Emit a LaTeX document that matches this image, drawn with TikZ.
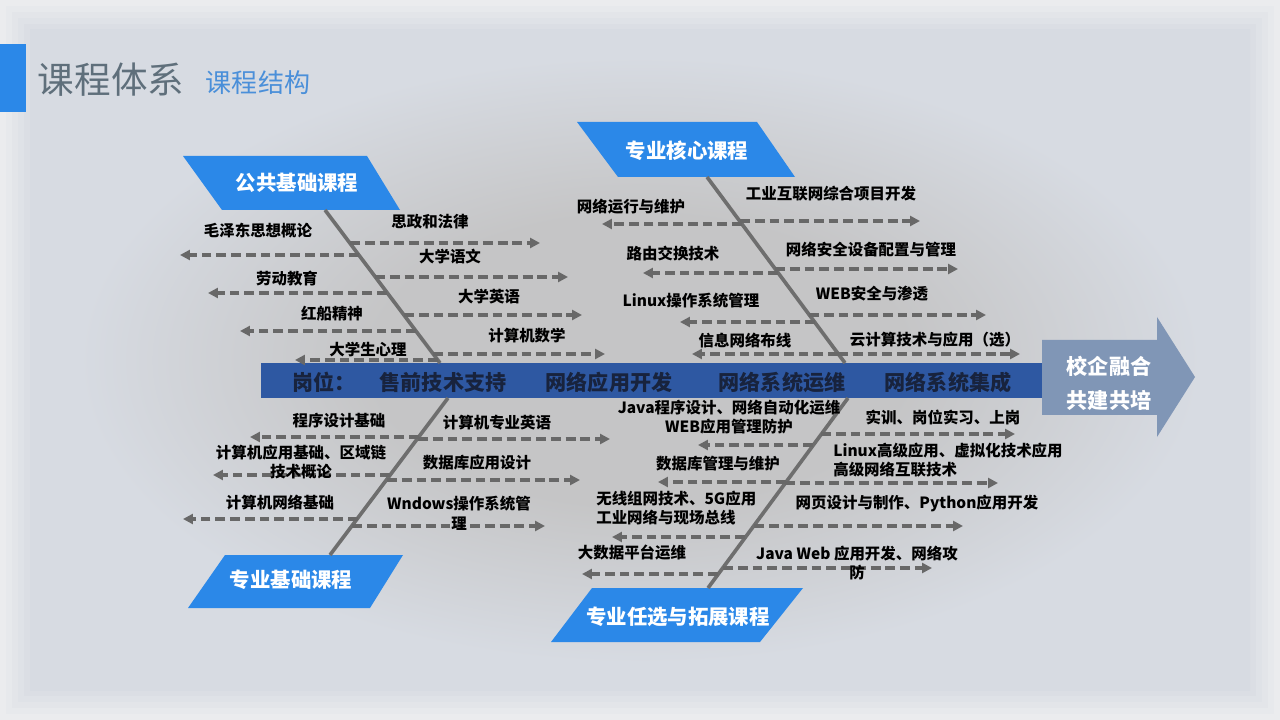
\documentclass[tikz,border=0pt]{standalone}
\usepackage{fontspec}
\setmainfont{Noto Sans CJK SC}
\usetikzlibrary{arrows.meta,calc,positioning}
\definecolor{tagblue}{HTML}{2B88E8}
\definecolor{spineblue}{HTML}{2E58A2}
\definecolor{spinetext}{HTML}{18233D}
\definecolor{bonegray}{HTML}{6E6E6E}
\definecolor{dashgray}{HTML}{686868}
\definecolor{steelarrow}{HTML}{8096B6}
\definecolor{titlegray}{HTML}{5F6F7B}
\definecolor{subblue}{HTML}{4A8FD9}
\definecolor{bgedge}{HTML}{EBECEE}
\definecolor{bgmid}{HTML}{D7DBE2}
\definecolor{bgcore}{HTML}{C5C5C6}

\pgfdeclareradialshading{slidecore}{\pgfpoint{0bp}{0bp}}{%
  color(0bp)=(bgcore); color(11bp)=(bgcore); color(23bp)=(bgmid); color(50bp)=(bgmid)}

\tikzset{
  bone/.style={bonegray, line width=2.6pt},
  branch/.style={dashgray, line width=2.2pt, dash pattern=on 7pt off 3.5pt,
                 -{Triangle[length=7pt,width=7pt]}},
  lbl/.style={font=\bfseries\fontsize{11}{14}\selectfont, text=black, inner sep=0pt, align=center},
  lblleft/.style={lbl, align=left},
  tagtext/.style={font=\bfseries\fontsize{14.5}{17}\selectfont, text=white, inner sep=0pt},
  jobtext/.style={font=\bfseries\fontsize{15}{17}\selectfont, text=spinetext, inner sep=0pt},
}

% #1 id, #2 arrow y, #3 start x (on bone), #4 end x, #5 label x, #6 label y, #7 text
\newcommand{\branchitem}[7]{%
  \coordinate (br#1-s) at (#3,#2);
  \coordinate (br#1-e) at (#4,#2);
  \draw[branch] (br#1-s) -- (br#1-e);
  \node[lbl] (lbl#1) at (#5,#6) {#7};
}

\begin{document}
\begin{tikzpicture}[x=0.025cm, y=-0.025cm]

\useasboundingbox (0,0) rectangle (1280,720);

% ==================== BACKGROUND & TITLE ====================
% soft light border fading into the bluish-grey slide
\fill[bgedge]            (0,0)   rectangle (1280,720);
\fill[bgmid!20!bgedge]   (6,6)   rectangle (1274,714);
\fill[bgmid!40!bgedge]   (12,12) rectangle (1268,708);
\fill[bgmid!60!bgedge]   (18,18) rectangle (1262,702);
\fill[bgmid!80!bgedge]   (24,24) rectangle (1256,696);
\fill[bgmid]             (30,30) rectangle (1250,690);
\shade[shading=slidecore] (30,30) rectangle (1250,690);

\fill[tagblue] (0,44) rectangle (26,112);
\node[font=\fontsize{26}{30}\selectfont, text=titlegray, inner sep=0pt] (title) at (111,80) {课程体系};
\node[font=\fontsize{18.5}{22}\selectfont, text=subblue, inner sep=0pt] (subtitle) at (258,83) {课程结构};

% ==================== SPINE & HEAD ARROW ====================
\fill[spineblue] (261,363) rectangle (1042,398);
\node[jobtext, anchor=west] (job0) at (292,382) {岗位：};
\node[jobtext] (job1) at (443,382) {售前技术支持};
\node[jobtext] (job2) at (609,382) {网络应用开发};
\node[jobtext] (job3) at (782,382) {网络系统运维};
\node[jobtext] (job4) at (948,382) {网络系统集成};

\fill[steelarrow] (1042,340) -- (1157,340) -- (1157,317) -- (1195,377)
    -- (1157,437) -- (1157,415) -- (1042,415) -- cycle;
\node[font=\bfseries\fontsize{15}{24}\selectfont, text=white, align=center, inner sep=0pt]
    (goal) at (1109,383) {校企融合\\共建共培};

% ==================== CATEGORY TAGS ====================
\fill[tagblue] (183,156) -- (367,156) -- (400,210) -- (222,210) -- cycle;
\node[tagtext] (tagA) at (297,183) {公共基础课程};
\fill[tagblue] (577,122) -- (757,122) -- (795,177) -- (618,177) -- cycle;
\node[tagtext] (tagB) at (687,151) {专业核心课程};
\fill[tagblue] (225,555) -- (403,555) -- (370,608) -- (188,608) -- cycle;
\node[tagtext] (tagC) at (291,580) {专业基础课程};
\fill[tagblue] (592,588) -- (803,588) -- (760,642) -- (551,642) -- cycle;
\node[tagtext] (tagD) at (678,617) {专业任选与拓展课程};

% ==================== BONES ====================
\coordinate (boneA-s) at (325,210);  \coordinate (boneA-e) at (440,363);
\coordinate (boneB-s) at (707,177);  \coordinate (boneB-e) at (845,363);
\coordinate (boneC-s) at (330,555);  \coordinate (boneC-e) at (448,398);
\coordinate (boneD-s) at (708,588);  \coordinate (boneD-e) at (848,398);
\draw[bone] (boneA-s) -- (boneA-e);
\draw[bone] (boneB-s) -- (boneB-e);
\draw[bone] (boneC-s) -- (boneC-e);
\draw[bone] (boneD-s) -- (boneD-e);

% ==================== BRANCHES ====================
% public basics
\branchitem{1}{255}{359}{180}{258}{231}{毛泽东思想概论}
\branchitem{2}{243}{350}{540}{430}{222}{思政和法律}
\branchitem{3}{277}{375}{568}{450}{257}{大学语文}
\branchitem{4}{293}{387}{208}{287}{279}{劳动教育}
\branchitem{5}{315}{404}{582}{489}{297}{大学英语}
\branchitem{6}{331}{416}{240}{332}{314}{红船精神}
\branchitem{7}{354}{433}{605}{527}{336}{计算机数学}
\branchitem{8}{360}{438}{295}{368}{350}{大学生心理}
% professional core
\branchitem{9}{224}{742}{602}{631}{207}{网络运行与维护}
\branchitem{10}{221}{740}{920}{831}{194}{工业互联网综合项目开发}
\branchitem{11}{273}{778}{643}{673}{254}{路由交换技术}
\branchitem{12}{269}{775}{958}{871}{250}{网络安全设备配置与管理}
\branchitem{13}{322}{815}{680}{691}{301}{Linux操作系统管理}
\branchitem{14}{315}{809}{986}{872}{294}{WEB安全与渗透}
\branchitem{15}{354}{838}{692}{745}{341}{信息网络布线}
\branchitem{16}{354}{838}{1020}{935}{340}{云计算技术与应用（选）}
% professional basics
\branchitem{17}{437}{419}{250}{339}{421}{程序设计基础}
\branchitem{18}{439}{418}{610}{497}{423}{计算机专业英语}
\branchitem{19}{475}{390}{213}{301}{462}{计算机应用基础、区域链\\技术概论}
\branchitem{20}{480}{387}{580}{477}{463}{数据库应用设计}
\branchitem{21}{519}{358}{183}{280}{503}{计算机网络基础}
\branchitem{22}{526}{352}{545}{459}{513}{Wndows操作系统管\\理}
% electives & extension
\branchitem{23}{445}{813}{698}{729}{417}{Java程序设计、网络自动化运维\\WEB应用管理防护}
\branchitem{24}{434}{821}{1015}{943}{417}{实训、岗位实习、上岗}
\branchitem{25}{482}{786}{658}{718}{464}{数据库管理与维护}
\branchitem{28}{526}{754}{963}{917}{503}{网页设计与制作、Python应用开发}
\branchitem{29}{574}{718}{582}{632}{553}{大数据平台运维}
\branchitem{30}{568}{723}{932}{857}{563}{Java Web 应用开发、网络攻\\防}

% left-aligned two-line labels
\coordinate (br26-s) at (785,483);  \coordinate (br26-e) at (998,483);
\draw[branch] (br26-s) -- (br26-e);
\node[lblleft, anchor=west] (lbl26) at (833,460) {Linux高级应用、虚拟化技术应用\\高级网络互联技术};
\coordinate (br27-s) at (745,537);  \coordinate (br27-e) at (612,537);
\draw[branch] (br27-s) -- (br27-e);
\node[lblleft, anchor=west] (lbl27) at (596,508) {无线组网技术、5G应用\\工业网络与现场总线};

\end{tikzpicture}
\end{document}
